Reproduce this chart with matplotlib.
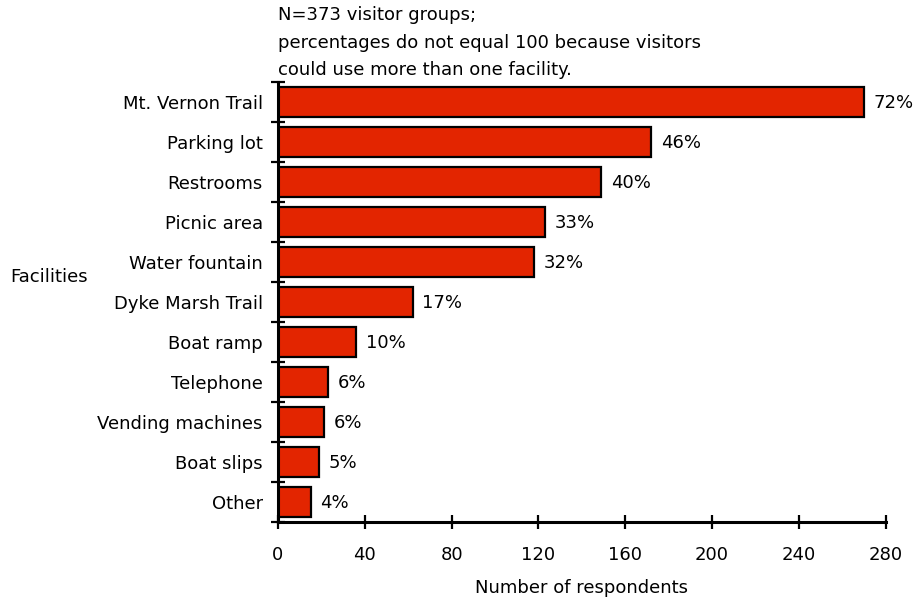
import matplotlib.pyplot as plt
from matplotlib.ticker import FixedLocator

# facilities used by visitor groups (N=373)
facilities = ['Mt. Vernon Trail', 'Parking lot', 'Restrooms', 'Picnic area',
              'Water fountain', 'Dyke Marsh Trail', 'Boat ramp', 'Telephone',
              'Vending machines', 'Boat slips', 'Other']
respondents = [270, 172, 149, 123, 118, 62, 36, 23, 21, 19, 15]
percent_labels = ['72%', '46%', '40%', '33%', '32%', '17%', '10%', '6%', '6%', '5%', '4%']
x_ticks = [0, 40, 80, 120, 160, 200, 240, 280]

plt.rcParams['font.family'] = 'DejaVu Sans'
plt.rcParams['font.size'] = 13

fig = plt.figure(figsize=(9.22, 6.02), dpi=100)
ax = fig.add_axes([0.3015, 0.133, 0.659, 0.731])

pos = list(range(len(facilities)))
ax.barh(pos, respondents, height=0.75, color='#E32500', edgecolor='black', linewidth=1.6)

for p, v, lab in zip(pos, respondents, percent_labels):
    ax.annotate(lab, (v, p), xytext=(7, -1), textcoords='offset points',
                va='center', ha='left')

ax.set_ylim(len(facilities) - 0.5, -0.5)
ax.set_xlim(0, 280)
ax.set_yticks(pos)
ax.set_yticklabels(facilities)
ax.yaxis.set_minor_locator(FixedLocator([i - 0.5 for i in range(len(facilities) + 1)]))
ax.tick_params(axis='y', which='major', length=0, pad=11)
ax.tick_params(axis='y', which='minor', direction='inout', length=10, width=1.6)
ax.set_xticks(x_ticks)
ax.tick_params(axis='x', direction='inout', length=10, width=1.6, pad=12)

for side in ['top', 'right']:
    ax.spines[side].set_visible(False)
for side in ['left', 'bottom']:
    ax.spines[side].set_linewidth(2.2)

ax.set_xlabel('Number of respondents', labelpad=11)
fig.text(0.011, 0.54, 'Facilities', va='center', ha='left')

note = ['N=373 visitor groups;',
        'percentages do not equal 100 because visitors',
        'could use more than one facility.']
for i, line in enumerate(note):
    fig.text(0.301, 0.975 - i * 0.046, line, va='center', ha='left')

fig.savefig('out.png', dpi=100)
